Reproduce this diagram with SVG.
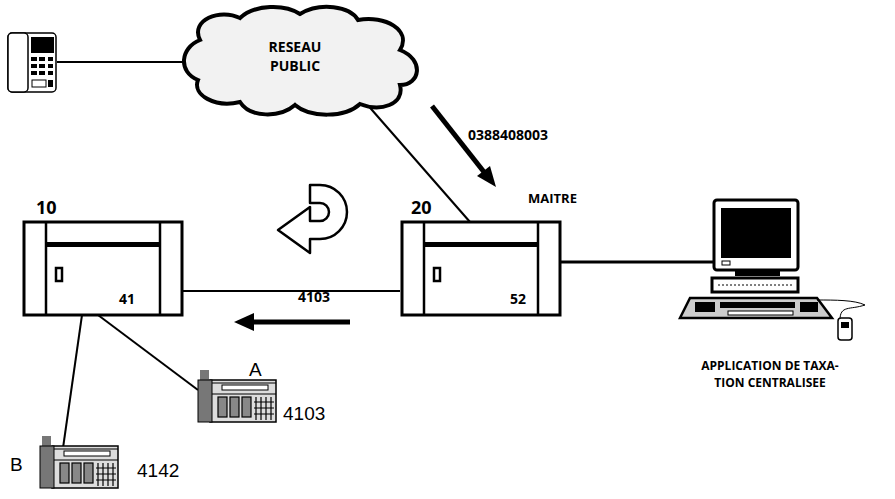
<svg xmlns="http://www.w3.org/2000/svg" width="895" height="499" viewBox="0 0 895 499">
<style>
.b{font-family:"Open Sans","Liberation Sans",sans-serif;font-weight:bold;fill:#000}
.r{font-family:"Liberation Sans",sans-serif;fill:#000;font-size:19px}
.ln{stroke:#000;stroke-width:2;fill:none}
.box{fill:#fff;stroke:#000;stroke-width:3}
</style>
<defs>
<g id="pbx">
<rect class="box" x="0" y="0" width="158" height="93"/>
<line x1="22" y1="0" x2="22" y2="93" stroke="#000" stroke-width="2.5"/>
<line x1="136" y1="0" x2="136" y2="93" stroke="#000" stroke-width="2.5"/>
<rect x="22" y="20" width="114" height="5" fill="#000"/>
<rect x="32" y="46" width="6" height="13" fill="#fff" stroke="#000" stroke-width="2.5"/>
</g>
<g id="deskphone">
<rect x="12" y="10" width="66" height="42" fill="#ddd" stroke="#000" stroke-width="1.5"/>
<rect x="2" y="0" width="9" height="11" fill="#777"/>
<rect x="0" y="10" width="14" height="42" fill="#777" stroke="#000"/>
<rect x="24" y="15" width="46" height="5" fill="#fff" stroke="#000"/>
<g stroke="#000" stroke-width="1.2">
<line x1="14" y1="13" x2="78" y2="13"/><line x1="14" y1="24" x2="78" y2="24"/>
<rect x="20" y="27" width="9" height="20" fill="#888"/><rect x="32" y="27" width="9" height="20" fill="#888"/><rect x="44" y="27" width="9" height="20" fill="#888"/>
<path d="M58 27v23M63 27v23M68 27v23M73 27v23M56 32h20M56 38h20M56 44h20"/>
</g>
</g>
</defs>

<g id="connectors">
<line class="ln" x1="57" y1="62" x2="188" y2="62"/>
<line class="ln" x1="365" y1="102" x2="470" y2="222"/>
<line class="ln" x1="164" y1="291" x2="400" y2="291"/>
<line x1="560" y1="262" x2="715" y2="262" stroke="#000" stroke-width="3"/>
<line class="ln" x1="82" y1="315" x2="63" y2="448"/>
<line class="ln" x1="98" y1="315" x2="198" y2="390"/>
<path d="M432 106 L484 172" stroke="#000" stroke-width="5"/>
<path d="M496 187 L477 176 L490 166 Z" fill="#000"/>
<path d="M350 322 L250 322" stroke="#000" stroke-width="5"/>
<path d="M234 322 L254 313 L254 331 Z" fill="#000"/>
</g>

<g id="cloud">
<path d="M200 40 C190 20 220 8 240 18 C255 4 285 4 300 14 C320 2 350 6 358 20 C385 15 412 30 400 50 C425 60 420 85 400 85 C405 105 380 112 360 104 C345 118 310 118 295 105 C280 118 250 118 240 102 C215 108 192 95 198 80 C178 72 180 48 200 40 Z" fill="#f2f2f2" stroke="#000" stroke-width="4"/>
<text class="b" x="295" y="52" font-size="14" text-anchor="middle">RESEAU</text>
<text class="b" x="295" y="71" font-size="14" text-anchor="middle">PUBLIC</text>
</g>

<g id="phone-top">
<rect x="8" y="33" width="48" height="59" rx="4" fill="#fff" stroke="#000" stroke-width="1.5"/>
<rect x="8" y="33" width="20" height="59" rx="4" fill="#fff" stroke="#000" stroke-width="1.5"/>
<rect x="31" y="37" width="23" height="16" fill="#000"/>
<g fill="#000"><rect x="31" y="57" width="6" height="4"/><rect x="39" y="57" width="6" height="4"/><rect x="48" y="57" width="5" height="4"/>
<rect x="31" y="64" width="6" height="4"/><rect x="39" y="64" width="6" height="4"/><rect x="48" y="64" width="5" height="4"/>
<rect x="31" y="71" width="6" height="4"/><rect x="39" y="71" width="6" height="4"/><rect x="48" y="71" width="5" height="4"/>
<rect x="32" y="80" width="14" height="7" fill="none" stroke="#000"/><rect x="48" y="80" width="5" height="7"/></g>
</g>

<g id="pbx10">
<use href="#pbx" x="24" y="222"/>
<text class="b" x="36" y="214" font-size="18">10</text>
<text class="b" x="119" y="304" font-size="14">41</text>
</g>
<g id="pbx20">
<use href="#pbx" x="402" y="222"/>
<text class="b" x="411" y="214" font-size="18">20</text>
<text class="b" x="510" y="304" font-size="14">52</text>
<text class="b" x="528" y="203" font-size="13">MAITRE</text>
</g>

<g id="uturn">
<path d="M310 185 L320 185 A27 27 0 0 1 320 239 L310 239 L310 253 L278 230 L310 207 L310 221 L320 221 A9 9 0 0 0 320 203 L310 203 Z" fill="#fff" stroke="#000" stroke-width="2.5" stroke-linejoin="round"/>
</g>

<g id="labels">
<text class="b" x="468" y="140" font-size="14">0388408003</text>
<text class="b" x="298" y="302" font-size="14">4103</text>
</g>

<g id="computer">
<rect x="714" y="200" width="84" height="70" rx="3" fill="#fff" stroke="#000" stroke-width="3"/>
<rect x="721" y="208" width="70" height="50" fill="#000"/>
<rect x="722" y="261" width="8" height="4" fill="#fff" stroke="#000"/>
<rect x="735" y="270" width="45" height="6" fill="#000"/>
<rect x="712" y="278" width="86" height="14" fill="#fff" stroke="#000" stroke-width="3"/>
<path d="M718 285h76" stroke="#000" stroke-dasharray="2 2"/>
<path d="M680 318 L690 298 L817 298 L832 318 Z" fill="#ccc" stroke="#000" stroke-width="2.5"/>
<rect x="695" y="302" width="20" height="10" fill="#000"/><rect x="720" y="302" width="75" height="6" fill="#000"/><rect x="800" y="302" width="18" height="10" fill="#000"/>
<rect x="728" y="311" width="65" height="4" fill="#fff" stroke="#000"/>
<path d="M817 300 C835 300 855 300 865 305 C850 310 840 305 840 320" stroke="#000" fill="none"/>
<rect x="838" y="318" width="14" height="22" rx="3" fill="#fff" stroke="#000" stroke-width="1.5"/>
<rect x="841" y="322" width="8" height="6" fill="#000"/>
<text class="b" x="770" y="370" font-size="12" text-anchor="middle">APPLICATION DE TAXA-</text>
<text class="b" x="770" y="387" font-size="12" text-anchor="middle">TION CENTRALISEE</text>
</g>

<g id="phoneA">
<use href="#deskphone" x="198" y="370"/>
<text class="r" x="249" y="376">A</text>
<text class="r" x="283" y="420">4103</text>
</g>
<g id="phoneB">
<use href="#deskphone" x="40" y="436"/>
<text class="r" x="10" y="471">B</text>
<text class="r" x="137" y="477">4142</text>
</g>
</svg>
